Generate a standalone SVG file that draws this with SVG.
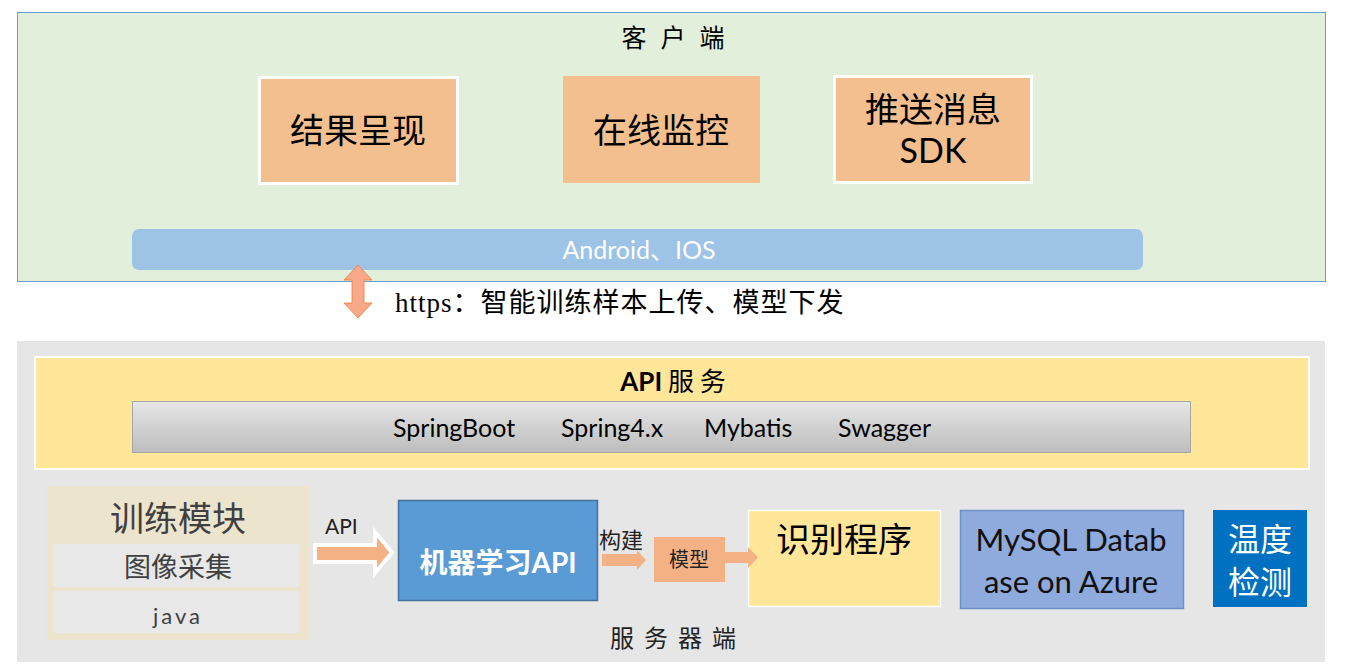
<svg xmlns="http://www.w3.org/2000/svg" width="1345" height="666" viewBox="0 0 1345 666">
<defs>
<linearGradient id="gbar" x1="0" y1="0" x2="0" y2="1">
<stop offset="0" stop-color="#e6e6e6"/>
<stop offset="1" stop-color="#bdbdbd"/>
</linearGradient>
</defs>
<style>
.cn{font-family:"Noto Sans CJK SC",sans-serif;}
.lat{font-family:Lato,"Noto Sans CJK SC",sans-serif;}
.ser{font-family:"Liberation Serif","Noto Sans CJK SC",serif;}
.mid{text-anchor:middle;}
</style>
<rect width="1345" height="666" fill="#ffffff"/>
<g id="client">
<rect x="17.5" y="12.5" width="1308" height="269" fill="#e2efda" stroke="#6a9bd0" stroke-width="1"/>
<text class="ser mid" x="680" y="47" font-size="25" fill="#000" letter-spacing="14">客户端</text>
</g>
<g id="result">
<rect x="259.5" y="77.5" width="198" height="106" fill="#f4bf8e" stroke="#ffffff" stroke-width="3"/>
<text class="cn mid" x="358" y="143" font-size="34" fill="#000">结果呈现</text>
</g>
<g id="monitor">
<rect x="563" y="76" width="197" height="107" fill="#f4bf8e"/>
<text class="cn mid" x="661" y="143" font-size="34" fill="#000">在线监控</text>
</g>
<g id="push">
<rect x="834.5" y="76.5" width="197" height="106" fill="#f4bf8e" stroke="#ffffff" stroke-width="3"/>
<text class="cn mid" x="933" y="122" font-size="34" fill="#000">推送消息</text>
<text class="lat mid" x="933" y="163" font-size="34" fill="#000">SDK</text>
</g>
<g id="android">
<rect x="132" y="229" width="1011" height="41" rx="7" fill="#9dc3e6"/>
<text class="lat mid" x="639" y="259" font-size="25" fill="#ffffff">Android、IOS</text>
</g>
<g id="server">
<rect x="17" y="341" width="1308" height="321" fill="#e7e6e6"/>
<text class="ser mid" x="678" y="647" font-size="24" fill="#222" letter-spacing="10">服务器端</text>
</g>
<g id="api-service">
<rect x="35" y="357" width="1274" height="112" fill="#ffe699" stroke="#ffffff" stroke-width="2"/>
<text class="cn mid" x="673" y="391" font-size="26" fill="#000"><tspan font-weight="bold" class="lat">API</tspan> 服 务</text>
</g>
<g id="framework">
<rect x="132.5" y="401.5" width="1058" height="51" fill="url(#gbar)" stroke="#a6a6a6" stroke-width="1"/>
<text class="lat" x="393" y="437" font-size="25" fill="#000">SpringBoot</text>
<text class="lat" x="561" y="437" font-size="25" fill="#000">Spring4.x</text>
<text class="lat" x="704" y="437" font-size="25" fill="#000">Mybatis</text>
<text class="lat" x="838" y="437" font-size="25" fill="#000">Swagger</text>
</g>
<g id="training">
<rect x="47" y="486" width="263" height="154" fill="#ede4ce"/>
<text class="cn mid" x="178" y="531" font-size="34" fill="#404040">训练模块</text>
<rect x="53" y="544" width="246" height="43" fill="#e8e8e8"/>
<text class="cn mid" x="178" y="577" font-size="27" fill="#404040">图像采集</text>
<rect x="53" y="591" width="246" height="42" fill="#e8e8e8"/>
<text class="lat mid" x="178" y="624" font-size="22" fill="#404040" letter-spacing="3">java</text>
</g>
<g id="ml-api">
<rect x="398.5" y="500.5" width="199" height="100" fill="#5b9bd5" stroke="#41719c" stroke-width="1.5"/>
<text class="cn mid" x="498" y="573" font-size="28" font-weight="bold" fill="#ffffff">机器学习<tspan class="lat">API</tspan></text>
</g>
<g id="model">
<rect x="654" y="537" width="71" height="45" fill="#f4b183"/>
<text class="cn mid" x="689" y="567" font-size="20" fill="#222">模型</text>
</g>
<g id="recognizer">
<rect x="748.5" y="510.5" width="192" height="96" fill="#ffe699" stroke="#ffffff" stroke-width="1.5"/>
<text class="cn mid" x="844" y="552" font-size="34" fill="#000">识别程序</text>
</g>
<g id="mysql">
<rect x="960.5" y="510.5" width="223" height="98" fill="#8faadc" stroke="#6f8fc9" stroke-width="1.5"/>
<text class="lat mid" x="1071" y="551" font-size="31" fill="#111">MySQL Datab</text>
<text class="lat mid" x="1071" y="593" font-size="31" fill="#111">ase on Azure</text>
</g>
<g id="temperature">
<rect x="1213" y="510" width="94" height="97" fill="#0070c0"/>
<text class="cn mid" x="1260" y="551" font-size="32" fill="#ffffff">温度</text>
<text class="cn mid" x="1260" y="594" font-size="32" fill="#ffffff">检测</text>
</g>
<g id="connectors">
<path d="M358,265 L372,280 L364,280 L364,303 L372,303 L358,318 L344,303 L352,303 L352,280 L344,280 Z" fill="#f8a98a" stroke="#ed7d31" stroke-width="0.8"/>
<text class="ser" x="395" y="312" font-size="27" fill="#000" letter-spacing="1">https：智能训练样本上传、模型下发</text>
<path d="M315,545 L375,545 L375,532 L392,552.5 L375,573 L375,562 L315,562 Z" fill="#f4b183" stroke="#ffffff" stroke-width="4" stroke-linejoin="miter"/>
<text class="lat" x="325" y="534" font-size="21" fill="#222">API</text>
<text class="cn" x="599" y="548" font-size="22" fill="#222">构建</text>
<path d="M602,554 L637,554 L637,550 L646,560 L637,570 L637,566 L602,566 Z" fill="#f4b183"/>
<path d="M725,552 L748,552 L748,547 L758,557.5 L748,568 L748,563 L725,563 Z" fill="#f4b183"/>
</g>
</svg>
